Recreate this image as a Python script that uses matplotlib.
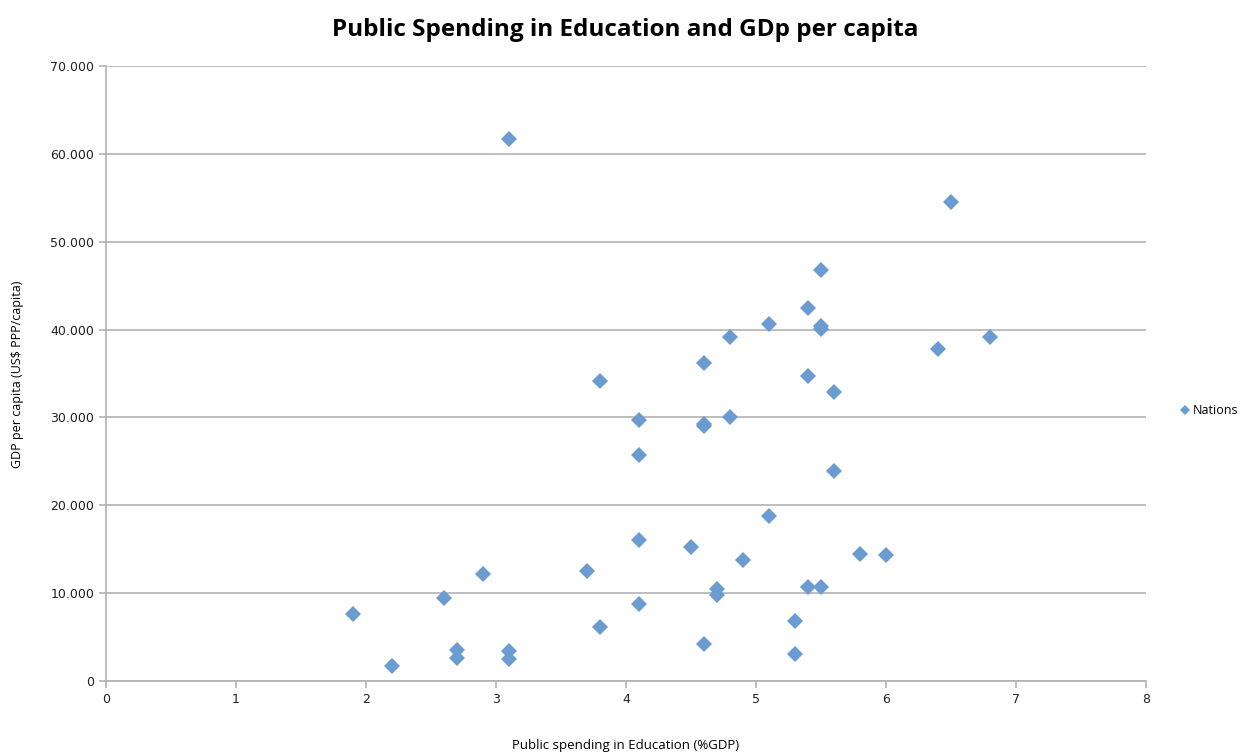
import matplotlib
matplotlib.use("Agg")
import matplotlib.pyplot as plt
from matplotlib.ticker import FuncFormatter, MultipleLocator

# education spending (% of GDP) and GDP per capita (US$ PPP) per nation
spending = [1.9, 2.2, 2.6, 2.7, 2.7, 2.9, 3.1, 3.1, 3.1, 3.7,
            3.8, 3.8, 4.1, 4.1, 4.1, 4.1, 4.5, 4.6, 4.6, 4.6,
            4.6, 4.7, 4.7, 4.8, 4.8, 4.9, 5.1, 5.1, 5.3, 5.3,
            5.4, 5.4, 5.4, 5.5, 5.5, 5.5, 5.5, 5.6, 5.6, 5.8,
            6.0, 6.4, 6.5, 6.8]
gdp = [7600, 1700, 9500, 3500, 2600, 12200, 61700, 3400, 2500, 12500,
       34100, 6100, 29700, 25700, 16100, 8800, 15300, 36200, 29300, 29000,
       4200, 10500, 9800, 39100, 30000, 13800, 40600, 18800, 6800, 3100,
       42500, 34700, 10700, 46800, 40400, 40100, 10700, 32900, 23900, 14500,
       14300, 37800, 54500, 39100]

W, H = 1247, 753
fig = plt.figure(figsize=(W / 100, H / 100), dpi=100)
ax = fig.add_axes([106 / W, 72 / H, 1040 / W, 615 / H])

ax.plot(spending, gdp, linestyle="none", marker="D", markersize=8,
        color="#6a9bd1", markeredgewidth=0, label="Nations")

ax.set_xlim(0, 8)
ax.set_ylim(0, 70000)
ax.xaxis.set_major_locator(MultipleLocator(1))
ax.yaxis.set_major_locator(MultipleLocator(10000))


def dotted_thousands(v, pos):
    if v == 0:
        return "0"
    return f"{int(v):,}".replace(",", ".")


ax.yaxis.set_major_formatter(FuncFormatter(dotted_thousands))
ax.grid(axis="y", color="#b3b3b3", linewidth=1.2)
ax.set_axisbelow(True)

for side in ("top", "right"):
    ax.spines[side].set_visible(False)
for side in ("left", "bottom"):
    ax.spines[side].set_color("#b3b3b3")
    ax.spines[side].set_linewidth(1.2)

ax.tick_params(colors="#b3b3b3", labelcolor="#222222", labelsize=9, length=5, width=1.2)

fig.text(626 / W, 1 - 745 / H, "Public spending in Education (%GDP)",
         ha="center", va="center", fontsize=9.5, family="Open Sans")
fig.text(18 / W, 1 - 374 / H, "GDP per capita (US$ PPP/capita)",
         ha="center", va="center", rotation=90, fontsize=9, family="Open Sans")
fig.text(625 / W, 1 - 30 / H, "Public Spending in Education and GDp per capita",
         ha="center", va="center", fontsize=17.5, fontweight="bold", family="Open Sans")

ax.legend(loc="center left", bbox_to_anchor=(1065 / 1040, 0.44), frameon=False,
          handletextpad=0.0, handlelength=1.2, markerscale=0.7, borderpad=0,
          prop={"family": "Open Sans", "size": 9})

fig.savefig("out.png", dpi=100)
